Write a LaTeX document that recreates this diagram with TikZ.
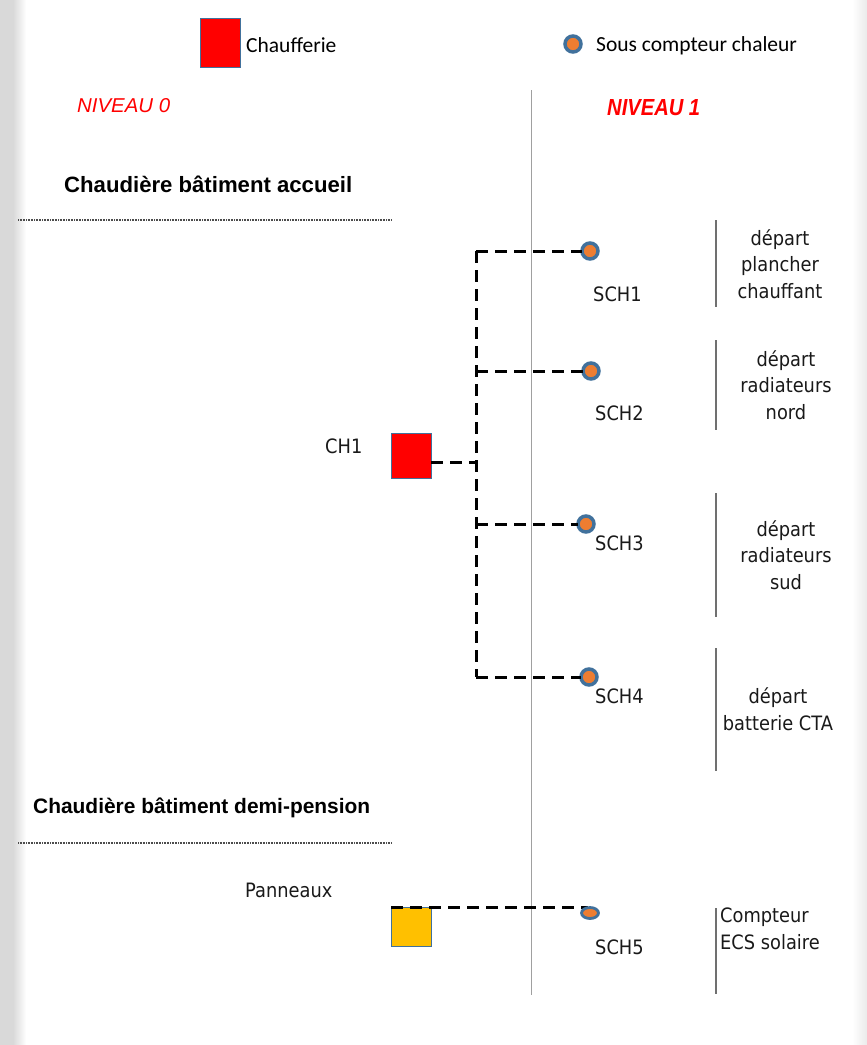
\documentclass[tikz,border=0pt]{standalone}
\usepackage{fontspec}
\setmainfont{Liberation Sans}
\newfontfamily\lab[FakeStretch=0.9]{DejaVu Sans}
\newfontfamily\leg{Carlito}
\usetikzlibrary{shapes.geometric}
\definecolor{cred}{HTML}{FF0000}
\definecolor{cyel}{HTML}{FFC000}
\definecolor{cedge}{HTML}{41719C}
\definecolor{corange}{HTML}{ED7D31}
\definecolor{cgrid}{HTML}{A0A0A0}
\definecolor{cbar}{HTML}{707070}
\tikzset{
  boiler/.style={draw=cedge, line width=0.8pt, fill=cred, minimum width=40pt, minimum height=45pt, inner sep=0pt, outer sep=0pt},
  solar/.style={boiler, fill=cyel, minimum height=39pt},
  meter/.style={circle, draw=cedge, line width=3.5pt, fill=corange, minimum size=16pt, inner sep=0pt, outer sep=0pt},
  pipe/.style={line width=3pt, dash pattern=on 12pt off 7pt},
  lbl/.style={font=\lab\fontsize{19.8}{26.5}\selectfont, inner sep=0pt, text=black!90},
  desc/.style={lbl, align=center},
  sep/.style={line width=1.5pt, dash pattern=on 1pt off 0.6pt, draw=black!70},
  bar/.style={line width=2pt, draw=cbar},
}
\begin{document}
\begin{tikzpicture}[x=1pt,y=-1pt]
\useasboundingbox (0,0) rectangle (867,1045);
% page shadows
\fill[black!15] (0,0) rectangle (13,1045);
\shade[left color=black!15, right color=white] (13,0) rectangle (26,1045);
\shade[left color=white, right color=black!8] (852,0) rectangle (867,1045);

% legend
\node[boiler, minimum width=40pt, minimum height=49pt, anchor=north west] (legbox) at (200,18) {};
\node[font=\leg\fontsize{21.5}{24}\selectfont, anchor=base west, inner sep=0pt] (legtxt) at (246,52) {Chaufferie};
\node[meter] (legmeter) at (573,44) {};
\node[font=\leg\fontsize{21.5}{24}\selectfont, anchor=base west, inner sep=0pt] (legtxt2) at (596,51) {Sous compteur chaleur};

% level titles
\node[anchor=base west, inner sep=0pt, text=cred] (n0) at (77,112) {\resizebox{93pt}{14pt}{\itshape NIVEAU 0}};
\node[anchor=base west, inner sep=0pt, text=cred] (n1) at (607,115) {\resizebox{93pt}{16pt}{\bfseries\itshape NIVEAU 1}};

% vertical divider
\coordinate (dtop) at (531,90);
\coordinate (dbot) at (531,995);
\draw[cgrid, line width=1pt] (dtop) -- (dbot);

% headings
\node[anchor=base west, inner sep=0pt] (h1) at (64,192) {\resizebox{288pt}{!}{\fontsize{19.5}{22}\selectfont\bfseries Chaudière bâtiment accueil}};
\node[anchor=base west, inner sep=0pt] (h2) at (33,813) {\resizebox{337pt}{!}{\fontsize{19.5}{22}\selectfont\bfseries Chaudière bâtiment demi-pension}};
\coordinate (s1a) at (18,220); \coordinate (s1b) at (392,220);
\coordinate (s2a) at (18,843); \coordinate (s2b) at (392,843);
\draw[sep] (s1a) -- (s1b);
\draw[sep] (s2a) -- (s2b);

% boilers
\node[boiler, anchor=north west] (ch1) at (391,433) {};
\node[lbl, anchor=base west] (ch1lbl) at (325,453) {CH1};
\node[solar, anchor=north west] (pan) at (391,907) {};
\node[lbl, anchor=base west] (panlbl) at (245,897) {Panneaux};

% connectors
\coordinate (jc) at (476,462);
\coordinate (j1) at (476,251);
\coordinate (j2) at (476,371);
\coordinate (j3) at (476,524);
\coordinate (j4) at (476,677);
\coordinate (p5) at (588,907);
\draw[pipe] (ch1.east |- jc) -- (jc);
\draw[pipe] (j1) -- (j4);
\draw[pipe] (pan.north west) -- (p5);

% meters
\node[meter] (sch1) at (590,251) {};
\node[meter] (sch2) at (591,371) {};
\node[meter] (sch3) at (586,524) {};
\node[meter] (sch4) at (589,677) {};
\node[meter, ellipse, minimum width=17pt, minimum height=11pt, line width=2.8pt] (sch5) at (590,913) {};
\node[lbl, anchor=base west] (l1) at (593,301) {SCH1};
\node[lbl, anchor=base west] (l2) at (595,420) {SCH2};
\node[lbl, anchor=base west] (l3) at (595,550) {SCH3};
\node[lbl, anchor=base west] (l4) at (595,703) {SCH4};
\node[lbl, anchor=base west] (l5) at (595,954) {SCH5};

\draw[pipe] (j1) -- (sch1.west);
\draw[pipe] (j2) -- (sch2.west);
\draw[pipe] (j3) -- (sch3.west);
\draw[pipe] (j4) -- (sch4.west);

% right bars and descriptions
\coordinate (b1a) at (716,220); \coordinate (b1b) at (716,307);
\coordinate (b2a) at (716,340); \coordinate (b2b) at (716,430);
\coordinate (b3a) at (716,493); \coordinate (b3b) at (716,617);
\coordinate (b4a) at (716,648); \coordinate (b4b) at (716,771);
\coordinate (b5a) at (716,908); \coordinate (b5b) at (716,994);
\draw[bar] (b1a) -- (b1b);
\draw[bar] (b2a) -- (b2b);
\draw[bar] (b3a) -- (b3b);
\draw[bar] (b4a) -- (b4b);
\draw[bar] (b5a) -- (b5b);
\node[desc] (d1) at (780,264) {départ\\plancher\\chauffant};
\node[desc] (d2) at (786,385) {départ\\radiateurs\\nord};
\node[desc] (d3) at (786,555) {départ\\radiateurs\\sud};
\node[desc] (d4) at (778,709) {départ\\batterie CTA};
\node[lbl, align=left, anchor=north west] (d5) at (720,908) {Compteur\\ECS solaire};
\end{tikzpicture}
\end{document}
